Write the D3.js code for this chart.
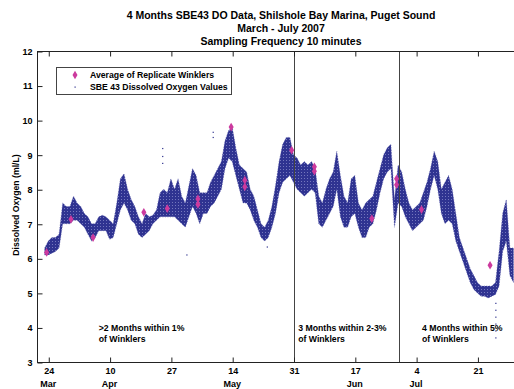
<!DOCTYPE html>
<html>
<head>
<meta charset="utf-8">
<script src="https://cdn.jsdelivr.net/npm/d3@7"></script>
<style>
  body { margin: 0; background: #fff; }
  svg text { font-family: "Liberation Sans", Arial, sans-serif; font-weight: bold; fill: #000; }
</style>
</head>
<body>
<div id="chart"></div>
<script>
// SBE 43 readings, summarised as a daily low / high envelope, first bin 2007-03-23
const sbeStart = '2007-03-23';
const sbeLow = [
  6.1, 6.1, 6.15, 6.2, 6.3, 7.0, 7.0, 7.0, 7.1, 7.1, 7.0, 6.9, 6.7, 6.5, 6.6, 6.8, 6.8, 6.8, 6.55, 6.6,
  7.0, 7.4, 7.6, 7.4, 7.1, 7.0, 6.7, 6.6, 6.7, 6.8, 7.0, 7.1, 7.2, 7.2, 7.2, 7.2, 7.2, 7.1, 7.0, 6.9,
  7.2, 7.5, 7.3, 7.0, 7.3, 7.3, 7.5, 7.6, 7.8, 8.0, 8.6, 8.9, 8.8, 8.4, 8.0, 7.6, 7.6, 7.4, 7.1, 6.9,
  6.6, 6.5, 6.6, 6.9, 7.3, 7.9, 8.2, 8.3, 8.4, 8.2, 8.0, 7.9, 7.8, 7.9, 8.0, 7.9, 7.0, 6.9, 7.1, 7.3,
  7.5, 8.0, 7.2, 6.9, 6.9, 7.2, 7.3, 6.9, 6.6, 6.6, 6.9, 7.0, 7.4, 7.9, 8.3, 8.5, 8.6, 6.9, 7.6, 7.5,
  7.2, 7.0, 6.8, 6.9, 7.0, 7.1, 7.5, 8.0, 8.4, 8.0, 7.3, 7.0, 7.1, 7.0, 6.5, 6.2, 5.9, 5.6, 5.3, 5.1,
  5.0, 4.9, 4.9, 4.85, 4.9, 4.95, 5.2, 6.2, 6.5, 5.5, 5.3
];
const sbeHigh = [
  6.3, 6.5, 6.6, 6.6, 6.7, 7.6, 7.5, 7.5, 7.8, 7.6, 7.5, 7.3, 7.2, 7.0, 7.0, 7.2, 7.25, 7.2, 7.1, 7.0,
  7.6, 8.3, 8.45, 8.0, 7.7, 7.5, 7.2, 7.0, 7.3, 7.2, 7.25, 7.4, 7.9, 8.0, 7.9, 8.3, 8.0, 8.3, 7.8, 7.6,
  8.1, 8.6, 8.4, 7.9, 7.9, 7.9, 8.2, 8.4, 8.6, 8.8, 9.4, 9.7, 9.8, 9.2, 8.7, 8.6, 8.5, 8.0, 7.8, 7.4,
  7.0, 6.9, 7.1, 7.5, 8.1, 8.8, 9.3, 9.5, 9.5, 9.0, 8.9, 8.7, 8.8, 8.7, 8.8, 8.6, 7.8, 7.6, 8.0, 8.3,
  8.5, 9.1, 8.4, 7.8, 7.6, 8.3, 8.4, 7.6, 7.4, 7.6, 7.7, 7.8, 8.2, 8.6, 9.0, 9.2, 9.3, 7.7, 8.7, 8.5,
  8.0, 7.6, 7.4, 7.5, 7.6, 7.9, 8.2, 8.6, 9.1, 8.8, 8.0, 8.2, 8.4, 8.0, 7.3, 6.6, 6.3, 6.0, 5.7, 5.5,
  5.3, 5.2, 5.2, 5.2, 5.2, 5.3, 6.2, 7.3, 7.7, 6.3, 6.3
];

// isolated SBE 43 dots outside the envelope
const strayDates = [
  '2007-04-24 17:00', '2007-04-24 17:00', '2007-04-24 17:00', '2007-05-01 10:00',
  '2007-05-08 17:00', '2007-05-08 17:00', '2007-05-23 17:00',
  '2007-07-26 02:00', '2007-07-26 02:00', '2007-07-26 02:00', '2007-07-26 02:00',
  '2007-07-26 02:00', '2007-07-26 02:00'
];
const strayValues = [9.18, 8.95, 8.75, 6.1, 9.5, 9.65, 6.33, 4.7, 4.5, 4.3, 4.1, 3.9, 3.7];

const winklerDates = [
  '2007-03-23 13:00', '2007-03-30 07:00', '2007-04-05 10:00', '2007-04-19 12:00', '2007-04-26 00:00',
  '2007-05-04 12:00', '2007-05-04 12:00', '2007-05-13 17:00', '2007-05-17 12:00', '2007-05-17 12:00',
  '2007-05-30 12:00', '2007-06-05 19:00', '2007-06-05 19:00', '2007-06-21 17:00', '2007-06-28 14:00',
  '2007-06-28 14:00', '2007-07-05 12:00', '2007-07-24 12:00'
];
const winklerValues = [
  6.17, 7.13, 6.6, 7.33, 7.44, 7.72, 7.56, 9.8, 8.26, 8.07, 9.13, 8.65, 8.52, 7.15, 8.3, 8.13, 7.41, 5.8
];

const tickDates = ['2007-03-24', '2007-04-10', '2007-04-27', '2007-05-14', '2007-05-31', '2007-06-17', '2007-07-04', '2007-07-21'];
const tickLabels = ['24', '10', '27', '14', '31', '17', '4', '21'];
const monthDates = ['2007-03-24', '2007-04-10', '2007-05-14', '2007-06-17', '2007-07-04'];
const monthLabels = ['Mar', 'Apr', 'May', 'Jun', 'Jul'];
const yTicks = [3, 4, 5, 6, 7, 8, 9, 10, 11, 12];

const dividerDates = ['2007-05-31 00:00', '2007-06-29 07:00'];
const noteDates = ['2007-04-07 00:00', '2007-06-01 07:00', '2007-07-05 15:00'];
const noteLines = [
  ['>2 Months within 1%', 'of Winklers'],
  ['3 Months within 2-3%', 'of Winklers'],
  ['4 Months within 5%', 'of Winklers']
];
const titleLines = [
  '4 Months SBE43 DO Data, Shilshole Bay Marina, Puget Sound',
  'March - July 2007',
  'Sampling Frequency 10 minutes'
];

const width = 514;
const height = 389;
const plot = { left: 37, right: 515, top: 51, bottom: 362 };
const navy = '#2c2f8c';
const magenta = '#cc3a9e';

const parseTime = d3.timeParse('%Y-%m-%d %H:%M');
const parseDay = d3.timeParse('%Y-%m-%d');

const svg = d3.select('#chart').append('svg')
  .attr('width', width)
  .attr('height', height);

const xScale = d3.scaleTime()
  .domain([parseTime('2007-03-20 21:00'), parseTime('2007-07-31 10:00')])
  .range([plot.left, plot.right]);
const yScale = d3.scaleLinear()
  .domain([3, 12])
  .range([plot.bottom, plot.top]);

// speckled texture for the dense SBE band
const defs = svg.append('defs');
const pat = defs.append('pattern')
  .attr('id', 'sbe-dots')
  .attr('patternUnits', 'userSpaceOnUse')
  .attr('width', 3)
  .attr('height', 3);
pat.append('rect').attr('width', 3).attr('height', 3).attr('fill', '#2f3391');
pat.append('rect').attr('x', 1).attr('y', 1).attr('width', 1).attr('height', 1).attr('fill', '#7477bd');

defs.append('clipPath').attr('id', 'plot-clip')
  .append('rect')
  .attr('x', plot.left).attr('y', plot.top)
  .attr('width', plot.right - plot.left).attr('height', plot.bottom - plot.top);

const sbe = sbeLow.map((lo, i) => ({
  date: d3.timeDay.offset(parseDay(sbeStart), i),
  low: lo,
  high: sbeHigh[i]
}));

const band = d3.area()
  .x(d => xScale(d.date))
  .y0(d => yScale(d.low))
  .y1(d => yScale(d.high));

const g = svg.append('g').attr('clip-path', 'url(#plot-clip)');

g.append('path')
  .datum(sbe)
  .attr('d', band)
  .attr('fill', 'url(#sbe-dots)')
  .attr('stroke', '#5558a8')
  .attr('stroke-width', 0.6)
  .attr('stroke-dasharray', '1,1.5');

g.selectAll('.stray')
  .data(strayDates)
  .join('rect')
  .attr('class', 'stray')
  .attr('x', d => xScale(parseTime(d)) - 0.5)
  .attr('y', (d, i) => yScale(strayValues[i]) - 0.5)
  .attr('width', 1.2)
  .attr('height', 1.2)
  .attr('fill', navy);

// divider lines
g.selectAll('.divider')
  .data(dividerDates)
  .join('line')
  .attr('class', 'divider')
  .attr('x1', d => Math.round(xScale(parseTime(d))) + 0.5)
  .attr('x2', d => Math.round(xScale(parseTime(d))) + 0.5)
  .attr('y1', plot.top)
  .attr('y2', plot.bottom)
  .attr('stroke', '#444')
  .attr('stroke-width', 1);

g.selectAll('.winkler')
  .data(winklerDates)
  .join('path')
  .attr('class', 'winkler')
  .attr('transform', (d, i) => `translate(${xScale(parseTime(d))},${yScale(winklerValues[i])})`)
  .attr('d', d3.symbol(d3.symbolDiamond, 22))
  .attr('fill', magenta);

// frame
svg.append('rect')
  .attr('x', plot.left + 0.5)
  .attr('y', plot.top + 0.5)
  .attr('width', plot.right - plot.left)
  .attr('height', plot.bottom - plot.top)
  .attr('fill', 'none')
  .attr('stroke', '#222')
  .attr('stroke-width', 1);

const tickDateObjs = tickDates.map(d => parseDay(d));

const xAxis = svg.append('g')
  .attr('transform', `translate(0.5,${plot.bottom + 0.5})`)
  .call(d3.axisBottom(xScale)
    .tickValues(tickDateObjs)
    .tickFormat((d, i) => tickLabels[i])
    .tickSizeInner(-5)
    .tickSizeOuter(0)
    .tickPadding(5));
xAxis.select('.domain').remove();

const xTop = svg.append('g')
  .attr('transform', `translate(0.5,${plot.top + 0.5})`)
  .call(d3.axisTop(xScale)
    .tickValues(tickDateObjs)
    .tickFormat('')
    .tickSizeInner(-5)
    .tickSizeOuter(0));
xTop.select('.domain').remove();

const yAxis = svg.append('g')
  .attr('transform', `translate(${plot.left + 0.5},0.5)`)
  .call(d3.axisLeft(yScale)
    .tickValues(yTicks)
    .tickSizeInner(-5)
    .tickSizeOuter(0)
    .tickPadding(5));
yAxis.select('.domain').remove();

svg.selectAll('.tick line').attr('stroke', '#222');
svg.selectAll('.tick text')
  .style('font-family', '"Liberation Sans", Arial, sans-serif')
  .style('font-weight', 'bold')
  .style('font-size', '9px')
  .attr('fill', '#000');

svg.selectAll('.month')
  .data(monthDates)
  .join('text')
  .attr('class', 'month')
  .attr('x', d => xScale(parseDay(d)))
  .attr('y', 387)
  .attr('text-anchor', 'middle')
  .style('font-size', '9px')
  .text((d, i) => monthLabels[i]);

// title
svg.selectAll('.title')
  .data(titleLines)
  .join('text')
  .attr('class', 'title')
  .attr('x', 281)
  .attr('y', (d, i) => 19 + i * 13)
  .attr('text-anchor', 'middle')
  .style('font-size', '10.5px')
  .text(d => d);

svg.append('text')
  .attr('transform', 'translate(19,205) rotate(-90)')
  .attr('text-anchor', 'middle')
  .style('font-size', '8.7px')
  .text('Dissolved Oxygen (ml/L)');

// notes under the data
noteLines.forEach((lines, i) => {
  svg.append('text')
    .attr('x', xScale(parseTime(noteDates[i])))
    .attr('y', 331)
    .style('font-size', '8.7px')
    .selectAll('tspan')
    .data(lines)
    .join('tspan')
    .attr('x', xScale(parseTime(noteDates[i])))
    .attr('dy', (d, j) => j === 0 ? 0 : 10.5)
    .text(d => d);
});

// legend
const legend = svg.append('g');
legend.append('rect')
  .attr('x', 56.5).attr('y', 67.5)
  .attr('width', 175).attr('height', 27)
  .attr('fill', '#fff')
  .attr('stroke', '#444');
legend.append('path')
  .attr('transform', 'translate(75,75)')
  .attr('d', d3.symbol(d3.symbolDiamond, 22))
  .attr('fill', magenta);
legend.append('rect')
  .attr('x', 74.5).attr('y', 86.5)
  .attr('width', 1.2).attr('height', 1.2)
  .attr('fill', navy);
legend.append('text')
  .attr('x', 90).attr('y', 78)
  .style('font-size', '8.7px')
  .text('Average of Replicate Winklers');
legend.append('text')
  .attr('x', 90).attr('y', 90)
  .style('font-size', '8.7px')
  .text('SBE 43 Dissolved Oxygen Values');
</script>
</body>
</html>
